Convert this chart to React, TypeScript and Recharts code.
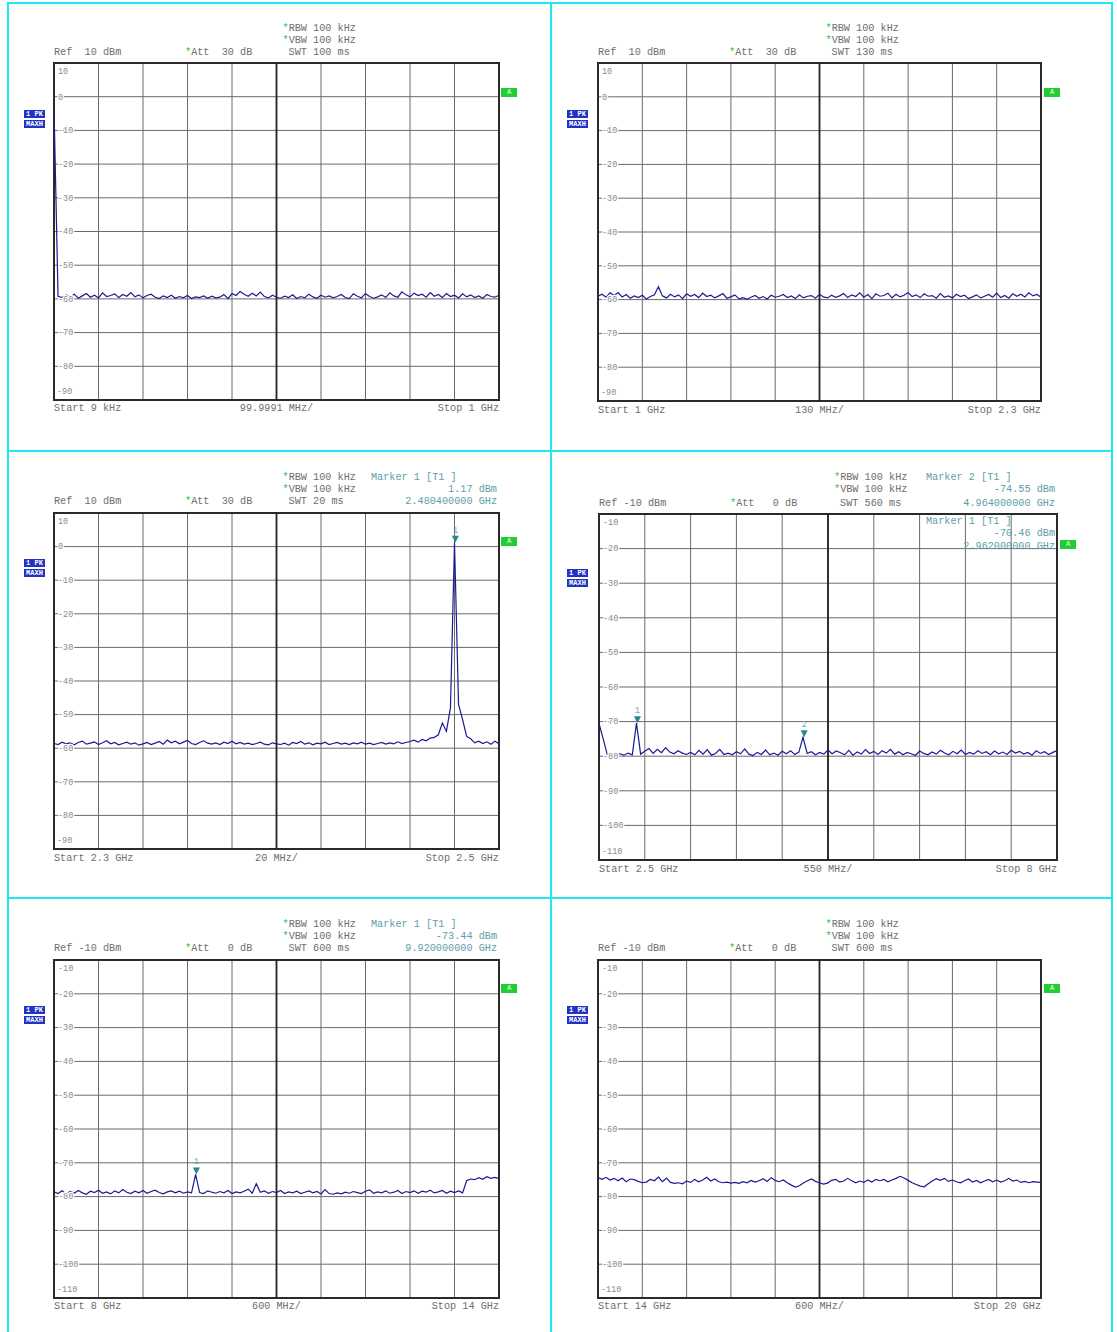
import React from 'react';
import { LineChart, Line, XAxis, YAxis, CartesianGrid, ReferenceLine, ReferenceArea, ReferenceDot } from 'recharts';

// ---------- data ----------
const SPAN_START = [0.000009, 1, 2.3, 2.5, 8, 14]; // GHz
const SPAN_STOP = [1, 2.3, 2.5, 8, 14, 20]; // GHz
const REF_LEVEL = [10, 10, 10, -10, -10, -10]; // dBm (top of grid)
const START_LABELS = ['Start 9 kHz', 'Start 1 GHz', 'Start 2.3 GHz', 'Start 2.5 GHz', 'Start 8 GHz', 'Start 14 GHz'];
const DIV_LABELS = ['99.9991 MHz/', '130 MHz/', '20 MHz/', '550 MHz/', '600 MHz/', '600 MHz/'];
const STOP_LABELS = ['Stop 1 GHz', 'Stop 2.3 GHz', 'Stop 2.5 GHz', 'Stop 8 GHz', 'Stop 14 GHz', 'Stop 20 GHz'];
const REF_LABELS = ['Ref  10 dBm', 'Ref  10 dBm', 'Ref  10 dBm', 'Ref -10 dBm', 'Ref -10 dBm', 'Ref -10 dBm'];
const ATT_LABELS = ['*Att  30 dB', '*Att  30 dB', '*Att  30 dB', '*Att   0 dB', '*Att   0 dB', '*Att   0 dB'];
const RBW_LABELS = ['*RBW 100 kHz', '*RBW 100 kHz', '*RBW 100 kHz', '*RBW 100 kHz', '*RBW 100 kHz', '*RBW 100 kHz'];
const VBW_LABELS = ['*VBW 100 kHz', '*VBW 100 kHz', '*VBW 100 kHz', '*VBW 100 kHz', '*VBW 100 kHz', '*VBW 100 kHz'];
const SWT_LABELS = [' SWT 100 ms', ' SWT 130 ms', ' SWT 20 ms', ' SWT 560 ms', ' SWT 600 ms', ' SWT 600 ms'];

const trace1 = [
  -3, -59.2, -59.6, -58.8, -59.4, -58.6, -59.8, -59.1, -58.4, -59.5,
  -58.9, -59.7, -58.2, -59.3, -59.0, -58.5, -59.6, -58.7, -59.2, -58.1,
  -59.4, -58.8, -59.7, -59.0, -58.6, -59.5, -59.9, -59.1, -59.6, -58.9,
  -59.8, -59.3, -59.7, -59.0, -59.9, -59.4, -59.6, -59.1, -59.8, -59.2,
  -59.7, -59.5, -58.7, -59.9, -58.4, -59.0, -57.8, -58.6, -59.2, -58.3,
  -59.1, -58.0, -59.3, -59.7, -58.9, -59.5, -59.8, -59.2, -59.6, -58.8,
  -59.9, -59.3, -59.7, -58.6, -59.4, -59.8, -58.9, -59.5, -59.1, -59.7,
  -59.3, -58.7, -59.6, -59.9, -58.5, -59.2, -59.7, -58.4, -59.3, -59.8,
  -59.4, -58.8, -59.6, -58.2, -59.1, -59.5, -57.9, -58.8, -59.4, -58.3,
  -59.0, -58.6, -59.5, -58.1, -59.2, -58.7, -59.6, -58.4, -59.3, -58.9,
  -59.7, -58.5, -59.4, -58.8, -59.6, -59.1, -59.8, -58.7, -59.3, -59.5, -58.9,
];
const trace2 = [
  -59.0, -58.4, -59.3, -58.0, -58.8, -57.9, -59.2, -58.5, -59.6, -58.9,
  -59.4, -58.7, -59.8, -59.1, -58.6, -56.2, -58.9, -59.5, -58.4, -59.2,
  -58.6, -59.7, -58.3, -59.0, -58.5, -59.4, -58.1, -59.1, -58.7, -59.5,
  -58.9, -58.2, -59.6, -59.2, -58.6, -59.8, -59.4, -59.9, -59.3, -58.8,
  -59.6, -59.1, -59.8, -58.7, -59.3, -59.0, -58.5, -59.4, -58.9, -59.7,
  -58.6, -59.5, -59.0, -58.8, -59.6, -58.4, -59.2, -59.5, -58.7, -59.3,
  -58.9, -58.2, -59.4, -58.6, -59.1, -58.0, -59.3, -58.5, -59.7, -58.3,
  -59.0, -58.8, -58.1, -59.5, -58.4, -59.2, -58.7, -57.9, -59.1, -58.6,
  -59.4, -58.3, -59.0, -58.8, -59.6, -58.2, -59.3, -58.9, -59.5, -58.4,
  -59.1, -58.7, -59.7, -59.2, -58.6, -59.5, -59.0, -58.5, -59.3, -58.1,
  -59.4, -58.8, -59.6, -58.3, -59.0, -58.4, -59.2, -58.0, -58.9, -58.5, -59.3,
];
const trace3 = [
  -58.6, -58.9, -58.2, -58.7, -58.4, -59.0, -58.3, -57.9, -58.8, -58.5,
  -58.1, -58.9, -58.4, -57.8, -58.7, -58.3, -59.0, -58.6, -58.2, -58.8,
  -58.4, -59.1, -58.7, -58.3, -58.9, -58.5, -58.0, -58.8, -57.6, -58.4,
  -57.9, -58.7, -58.2, -57.7, -58.6, -58.9, -58.3, -57.8, -58.5, -58.8,
  -58.4, -58.9, -58.2, -58.6, -57.9, -58.7, -58.3, -58.8, -58.5, -58.9,
  -58.6, -58.2, -58.8, -59.0, -58.4, -58.7, -58.9, -58.5, -59.1, -58.3,
  -58.6, -58.0, -58.8, -58.4, -59.0, -58.5, -58.7, -58.2, -58.9, -58.6,
  -58.3, -58.8, -58.5, -58.9, -58.4, -58.7, -58.2, -58.8, -58.5, -58.9,
  -58.6, -58.3, -58.8, -58.4, -58.7, -58.1, -58.6, -58.3, -58.0, -57.6,
  -58.2, -57.4, -57.8, -57.0, -56.8, -56.0, -52.5, -55.0, -48.0, 1.17,
  -47.0, -51.5, -56.5, -57.2, -58.4, -57.9, -58.6, -58.1, -58.8, -57.9, -58.7,
];
const trace4 = [
  -70.5, -75.0, -79.6, -79.2, -79.8, -79.3, -79.7, -79.1, -79.6, -70.46,
  -79.4, -78.6, -77.8, -79.2, -78.0, -79.0, -77.5, -78.8, -79.3, -78.4,
  -79.1, -79.5, -78.9, -79.6, -78.3, -79.4, -78.1, -79.7, -79.2, -78.0,
  -79.5, -79.1, -79.6, -78.7, -79.3, -77.9, -79.4, -79.8, -78.9, -79.5,
  -78.2, -79.6, -79.1, -79.7, -78.6, -79.3, -78.4, -79.5, -78.8, -74.55,
  -79.2, -78.7, -79.6, -78.9, -79.4, -78.2, -79.3, -78.5, -79.0, -79.6,
  -78.3, -79.7, -78.8, -79.4, -78.1, -79.2, -78.6, -79.5, -78.4, -79.1,
  -78.0, -79.4, -78.7, -79.6, -78.9, -79.3, -79.8, -78.5, -79.2, -79.6,
  -78.8, -79.4, -78.3, -79.1, -79.6, -78.6, -79.3, -78.2, -79.5, -78.9,
  -79.4, -78.4, -79.2, -78.7, -79.6, -78.5, -79.3, -78.8, -79.5, -78.3,
  -79.1, -78.6, -79.4, -78.9, -79.7, -78.4, -79.2, -78.7, -79.5, -78.9, -78.4,
];
const trace5 = [
  -78.6, -79.1, -78.3, -79.2, -78.5, -79.0, -78.2, -78.9, -79.3, -78.4,
  -78.8, -78.1, -79.0, -78.6, -79.2, -78.3, -78.9, -77.9, -78.7, -79.1,
  -78.4, -78.9, -78.2, -79.0, -78.5, -78.1, -78.8, -79.2, -78.6, -78.3,
  -78.9, -78.4, -79.0, -78.6, -78.9, -73.44, -78.8, -79.1, -78.3, -78.7,
  -79.0, -78.5, -78.9, -78.2, -79.1, -78.6, -78.9, -78.4, -77.8, -79.0,
  -76.2, -78.7, -78.3, -79.0, -78.5, -78.8, -78.2, -79.1, -78.6, -78.9,
  -78.4, -79.1, -78.7, -78.3, -78.9, -78.5, -79.2, -77.9, -79.1, -79.3,
  -78.9, -79.2, -78.7, -79.0, -78.5, -78.8, -79.1, -78.4, -78.0, -79.0,
  -78.6, -78.9, -78.3, -79.0, -78.7, -78.2, -79.1, -78.5, -78.8, -78.3,
  -79.0, -78.4, -78.7, -78.1, -78.9, -78.6, -78.2, -79.0, -78.4, -78.8,
  -78.3, -78.9, -75.3, -74.8, -75.0, -74.4, -74.9, -74.1, -74.6, -74.3, -74.7,
];
const trace6 = [
  -74.4, -74.9, -74.3, -75.1, -74.6, -75.3, -74.5, -75.6, -74.8, -75.0,
  -75.5, -75.9, -75.7, -74.9, -75.3, -74.2, -75.6, -74.5, -75.8, -76.1,
  -75.9, -76.2, -75.4, -75.8, -74.9, -75.6, -75.1, -74.3, -75.4, -74.8,
  -75.6, -75.9, -75.7, -76.0, -75.8, -76.1, -75.6, -75.9, -75.2, -75.7,
  -75.3, -74.7, -75.5, -74.4, -75.2, -75.6, -75.1, -75.9, -76.6, -77.2,
  -76.8, -76.0, -75.3, -74.8, -75.5, -75.9, -76.3, -76.0, -75.2, -74.9,
  -75.7, -75.4, -74.6, -75.3, -75.9, -75.4, -75.8, -75.1, -75.7, -74.9,
  -75.3, -74.9, -75.6, -75.1, -74.6, -74.0, -74.5, -75.2, -75.9, -76.4,
  -76.9, -77.1, -76.2, -75.4, -74.7, -75.2, -74.6, -75.5, -75.1, -75.6,
  -75.9, -75.3, -74.8, -75.7, -75.2, -75.9, -75.4, -74.9, -75.6, -75.1,
  -75.7, -75.3, -74.6, -75.4, -75.1, -75.8, -75.5, -75.9, -75.6, -75.7, -75.8,
];
const TRACES = [trace1, trace2, trace3, trace4, trace5, trace6];

// markers
const MARKER_PANEL = [2, 3, 3, 4];
const MARKER_NUM = [1, 1, 2, 1];
const MARKER_FREQ = [2.4804, 2.962, 4.964, 9.92];
const MARKER_LEVEL = [1.17, -70.46, -74.55, -73.44];

// marker readouts
const READOUT_PANEL = [2, 3, 3, 4];
const READOUT_TITLE = ['Marker 1 [T1 ]', 'Marker 2 [T1 ]', 'Marker 1 [T1 ]', 'Marker 1 [T1 ]'];
const READOUT_LEVEL = ['1.17 dBm', '-74.55 dBm', '-70.46 dBm', '-73.44 dBm'];
const READOUT_FREQ = ['2.480400000 GHz', '4.964000000 GHz', '2.962000000 GHz', '9.920000000 GHz'];
const READOUT_INSIDE = [false, false, true, false];

// ---------- layout ----------
const LAYOUT = [
  { left: 54, top: 63, w: 445, h: 337, head: [28, 40, 52], bottomY: 408, pk: [24, 110], a: [501, 88], mx: 371 },
  { left: 598, top: 63, w: 443, h: 338, head: [28, 40, 52], bottomY: 410, pk: [567, 110], a: [1044, 88], mx: 915 },
  { left: 54, top: 513, w: 445, h: 336, head: [477, 489, 501], bottomY: 858, pk: [24, 559], a: [501, 537], mx: 371 },
  { left: 599, top: 514, w: 458, h: 346, head: [477, 489, 503], bottomY: 869, pk: [567, 569], a: [1060, 540], mx: 926 },
  { left: 54, top: 960, w: 445, h: 338, head: [924, 936, 948], bottomY: 1306, pk: [24, 1006], a: [501, 984], mx: 371 },
  { left: 598, top: 960, w: 443, h: 338, head: [924, 936, 948], bottomY: 1306, pk: [567, 1006], a: [1044, 984], mx: 915 },
];
const PAD = 4;
const FONT = '"Liberation Mono", "DejaVu Sans Mono", monospace';
const GREY = '#6e6e6e';
const TEAL = '#5e9ea8';
const CYAN = '#1ee8f4';

function Txt({ x, y, children, anchor = 'start', color = GREY, size = 10.2 }: any) {
  const tx = anchor === 'end' ? 'translateX(-100%)' : anchor === 'middle' ? 'translateX(-50%)' : undefined;
  return (
    <div style={{ position: 'absolute', left: x, top: y - 5, lineHeight: '12px', height: 12, fontFamily: FONT, fontSize: size, color, whiteSpace: 'pre', transform: tx }}>
      {children}
    </div>
  );
}

function Starred({ s }: { s: string }) {
  if (s.startsWith('*')) {
    return (<><span style={{ color: '#33bb33' }}>*</span>{s.slice(1)}</>);
  }
  return <>{s}</>;
}

function Panel({ idx }: { idx: number }) {
  const L = LAYOUT[idx];
  const start = SPAN_START[idx];
  const stop = SPAN_STOP[idx];
  const ref = REF_LEVEL[idx];
  const bottom = ref - 100;
  const levels = TRACES[idx];
  const n = levels.length;
  const rows = levels.map((v, i) => ({ f: start + (i * (stop - start)) / (n - 1), v }));
  const xTicks = Array.from({ length: 11 }, (_, k) => start + (k * (stop - start)) / 10);
  const yTicks = Array.from({ length: 11 }, (_, k) => ref - k * 10);
  const center = (start + stop) / 2;
  const cx = L.left + L.w / 2;

  const tick = (props: any) => {
    const { y, payload } = props;
    const v = payload.value;
    if (v === bottom) return <g />;
    let dy = 0;
    if (v === ref) dy = 8;
    return (
      <text x={PAD + 4} y={y + dy} dy="0.33em" fontSize={8.5} fontFamily={FONT} fill="#8a8a8a" stroke="#fff" strokeWidth={2.5} paintOrder="stroke">
        {String(v)}
      </text>
    );
  };

  const markers = MARKER_PANEL.map((p, i) => ({ p, i })).filter((m) => m.p === idx);
  const readouts = READOUT_PANEL.map((p, i) => ({ p, i })).filter((m) => m.p === idx);

  return (
    <>
      <div style={{ position: 'absolute', left: L.left - PAD, top: L.top - PAD }}>
        <LineChart width={L.w + 2 * PAD} height={L.h + 2 * PAD} data={rows} margin={{ top: PAD, right: PAD, bottom: PAD, left: PAD }}>
          <CartesianGrid stroke="#6a6a6a" strokeWidth={1} />
          <XAxis dataKey="f" type="number" domain={[start, stop]} ticks={xTicks} interval={0} hide allowDataOverflow />
          <YAxis type="number" domain={[bottom, ref]} ticks={yTicks} mirror axisLine={false} tickLine={false} interval={0} tick={tick} allowDataOverflow />
          <ReferenceLine x={center} stroke="#222" strokeWidth={1.8} />
          <Line type="linear" dataKey="v" stroke="#1a1a96" strokeWidth={1.2} dot={false} isAnimationActive={false} />
          <ReferenceArea x1={start} x2={stop} y1={bottom} y2={ref} fill="none" fillOpacity={0} stroke="#2a2a2a" strokeWidth={2} ifOverflow="visible" />
          {markers.map(({ i }) => (
            <ReferenceDot
              key={i}
              x={MARKER_FREQ[i]}
              y={MARKER_LEVEL[i]}
              r={0}
              ifOverflow="visible"
              shape={(p: any) => (
                <g>
                  <polygon points={`${p.cx - 3.5},${p.cy - 7} ${p.cx + 3.5},${p.cy - 7} ${p.cx},${p.cy}`} fill="#2b8888" />
                  <text x={p.cx} y={p.cy - 10} textAnchor="middle" fontSize={9} fontFamily={FONT} fill="#6fb0b0">{MARKER_NUM[i]}</text>
                </g>
              )}
            />
          ))}
        </LineChart>
      </div>
      {/* lowest grid value label */}
      <Txt x={L.left + 3} y={L.top + L.h - 9} color="#8a8a8a" size={8.5}>{String(bottom)}</Txt>

      {/* header */}
      <Txt x={cx + 6} y={L.head[0]}><Starred s={RBW_LABELS[idx]} /></Txt>
      <Txt x={cx + 6} y={L.head[1]}><Starred s={VBW_LABELS[idx]} /></Txt>
      <Txt x={cx + 6} y={L.head[2]}>{SWT_LABELS[idx]}</Txt>
      <Txt x={L.left} y={L.head[2]}>{REF_LABELS[idx]}</Txt>
      <Txt x={L.left + 131} y={L.head[2]}><Starred s={ATT_LABELS[idx]} /></Txt>

      {/* readouts */}
      {readouts.map(({ i }) => {
        const ys = READOUT_INSIDE[i] ? [L.top + 7, L.top + 19, L.top + 32] : L.head;
        return (
          <React.Fragment key={i}>
            <Txt x={L.mx} y={ys[0]} color={TEAL}>{READOUT_TITLE[i]}</Txt>
            <Txt x={L.left + L.w - 2} y={ys[1]} color={TEAL} anchor="end">{READOUT_LEVEL[i]}</Txt>
            <Txt x={L.left + L.w - 2} y={ys[2]} color={TEAL} anchor="end">{READOUT_FREQ[i]}</Txt>
          </React.Fragment>
        );
      })}

      {/* bottom labels */}
      <Txt x={L.left} y={L.bottomY}>{START_LABELS[idx]}</Txt>
      <Txt x={cx} y={L.bottomY} anchor="middle">{DIV_LABELS[idx]}</Txt>
      <Txt x={L.left + L.w} y={L.bottomY} anchor="end">{STOP_LABELS[idx]}</Txt>

      {/* trace info boxes */}
      <div style={{ position: 'absolute', left: L.pk[0], top: L.pk[1], width: 21, height: 8, background: '#2233c4', color: '#fff', fontFamily: FONT, fontSize: 7, fontWeight: 'bold', lineHeight: '8px', textAlign: 'center' }}>1 PK</div>
      <div style={{ position: 'absolute', left: L.pk[0], top: L.pk[1] + 10, width: 21, height: 8, background: '#2233c4', color: '#fff', fontFamily: FONT, fontSize: 7, fontWeight: 'bold', lineHeight: '8px', textAlign: 'center' }}>MAXH</div>
      <div style={{ position: 'absolute', left: L.a[0], top: L.a[1], width: 16, height: 9, background: '#22cc33', color: '#eaffea', fontFamily: FONT, fontSize: 7, lineHeight: '9px', textAlign: 'center' }}>A</div>
    </>
  );
}

export default function App() {
  const vLines = [7, 550, 1111];
  const hLines = [2, 450, 897];
  return (
    <div style={{ position: 'absolute', left: 0, top: 0, width: 1117, height: 1332, background: '#fff', overflow: 'hidden' }}>
      {vLines.map((x) => (
        <div key={'v' + x} style={{ position: 'absolute', left: x, top: 2, width: 2, height: 1330, background: CYAN }} />
      ))}
      {hLines.map((y) => (
        <div key={'h' + y} style={{ position: 'absolute', left: 7, top: y, width: 1106, height: 2, background: CYAN }} />
      ))}
      {[0, 1, 2, 3, 4, 5].map((i) => (
        <Panel key={i} idx={i} />
      ))}
    </div>
  );
}
